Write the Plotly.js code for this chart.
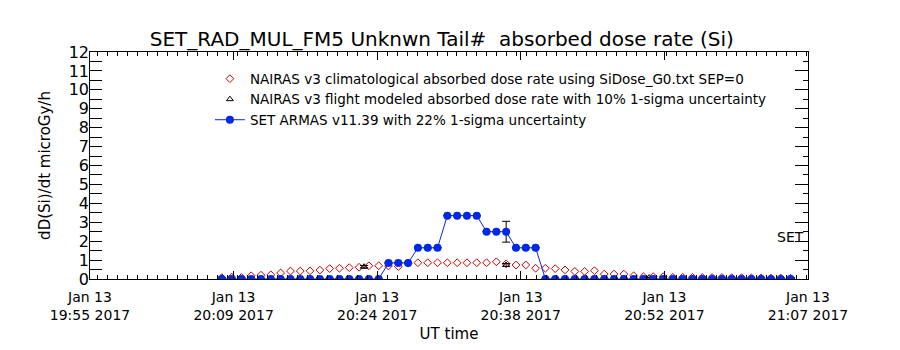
<!DOCTYPE html>
<html>
<head>
<meta charset="utf-8">
<script src="https://cdn.plot.ly/plotly-3.0.1.min.js"></script>
<style>html,body{margin:0;padding:0;background:#fff;}#chart{width:900px;height:350px;}</style>
</head>
<body>
<div id="chart"></div>
<script>
// ---- data ----
const DAY = '2017-01-13 ';
const sampleTimes = ['20:08:25','20:09:24','20:10:23','20:11:22','20:12:21','20:13:20','20:14:19','20:15:18','20:16:17','20:17:16',
  '20:18:15','20:19:14','20:20:13','20:21:12','20:22:11','20:23:10','20:24:09','20:25:08','20:26:07','20:27:06',
  '20:28:05','20:29:04','20:30:03','20:31:02','20:32:01','20:33:00','20:33:59','20:34:58','20:35:57','20:36:56',
  '20:37:55','20:38:54','20:39:53','20:40:52','20:41:51','20:42:50','20:43:49','20:44:48','20:45:47','20:46:46',
  '20:47:45','20:48:44','20:49:43','20:50:42','20:51:41','20:52:40','20:53:39','20:54:38','20:55:37','20:56:36',
  '20:57:35','20:58:34','20:59:33','21:00:32','21:01:31','21:02:30','21:03:29','21:04:28','21:05:27'];
const climValues = [0.07,0.10,0.08,0.17,0.20,0.22,0.32,0.42,0.42,0.43,
  0.47,0.55,0.57,0.60,0.62,0.70,0.70,0.69,0.66,0.84,
  0.86,0.86,0.86,0.86,0.86,0.86,0.86,0.86,0.91,0.80,
  0.74,0.74,0.57,0.57,0.55,0.48,0.40,0.40,0.44,0.26,
  0.26,0.26,0.17,0.12,0.12,0.12,0.09,0.09,0.09,0.08,
  0.08,0.08,0.07,0.07,0.06,0.06,0.05,0.05,0.04];
const setValues = [0,0,0,0,0,0,0,0,0,0,
  0,0,0,0,0,0,0,0.85,0.85,0.85,
  1.65,1.65,1.65,3.35,3.35,3.35,3.35,2.5,2.5,2.5,
  1.65,1.65,1.65,0,0,0,0,0,0,0,
  0,0,0,0,0,0,0,0,0,0,
  0,0,0,0,0,0,0,0,0];
const setErrors = [null,null,null,null,null,null,null,null,null,null,
  null,null,null,null,null,null,null,null,null,null,
  null,null,null,null,null,null,null,null,null,0.55,
  null,null,null,null,null,null,null,null,null,null,
  null,null,null,null,null,null,null,null,null,null,
  null,null,null,null,null,null,null,null,null];
const flightTimes = ['20:08:25','20:22:41','20:36:56','20:51:16','21:05:30'];
const flightValues = [0.06,0.65,0.74,0.08,0.05];
const flightSigmaPct = 10;

const xRange = ['19:55:12','21:07:12'];
const xTickTimes = ['19:55:12','20:09:36','20:24:00','20:38:24','20:52:48','21:07:12'];
const xTickLabels = ['Jan 13<br>19:55 2017','Jan 13<br>20:09 2017','Jan 13<br>20:24 2017',
  'Jan 13<br>20:38 2017','Jan 13<br>20:52 2017','Jan 13<br>21:07 2017'];
const yLabelPos = [0,1,2,3,4,5,6,7,8,9,10,11,12];
const yLabels = ['0','1','2','3','4','5','6','7','8','9','10','11','12'];

const names = [
  'NAIRAS v3 climatological absorbed dose rate using SiDose_G0.txt SEP=0',
  'NAIRAS v3 flight modeled absorbed dose rate with 10% 1-sigma uncertainty',
  'SET ARMAS v11.39 with 22% 1-sigma uncertainty'
];

// ---- build ----
const full = t => DAY + t;
const FONT = 'DejaVu Sans';
const BLUE = 'rgb(0,40,230)';
const RED = 'rgb(205,0,0)';

const traces = [
  {x: sampleTimes.map(full), y: climValues, name: names[0], type: 'scatter', mode: 'markers',
   marker: {symbol: 'diamond-open', size: 6, color: RED, line: {width: 1, color: RED}}},
  {x: flightTimes.map(full), y: flightValues, name: names[1], type: 'scatter', mode: 'markers',
   marker: {symbol: 'triangle-up-open', size: 6, color: 'black', line: {width: 1, color: 'black'}},
   error_y: {type: 'percent', value: flightSigmaPct, color: 'black', thickness: 1, width: 4}},
  {x: sampleTimes.map(full), y: setValues, name: names[2], type: 'scatter', mode: 'lines+markers',
   line: {color: BLUE, width: 1}, marker: {symbol: 'circle', size: 8, color: BLUE},
   error_y: {type: 'data', array: setErrors, visible: true, color: 'black', thickness: 1, width: 4}},
  // carrier traces for the overlay axes
  {x: [full(xRange[0])], y: [-5], yaxis: 'y2', mode: 'markers', marker: {opacity: 0}, showlegend: false, hoverinfo: 'skip'},
  {x: [full(xRange[0])], y: [-5], yaxis: 'y3', mode: 'markers', marker: {opacity: 0}, showlegend: false, hoverinfo: 'skip'}
];

const layout = {
  width: 900, height: 350,
  margin: {l: 90, r: 92, t: 52, b: 71},
  paper_bgcolor: 'white', plot_bgcolor: 'white',
  font: {family: FONT, color: 'black', size: 14},
  title: {text: 'SET_RAD_MUL_FM5 Unknwn Tail#\u00a0 absorbed dose rate (Si)',
          font: {family: FONT, size: 20, color: 'black'},
          x: 0.49, xref: 'paper', xanchor: 'center', y: 0.888, yref: 'container', yanchor: 'middle'},
  showlegend: true,
  legend: {x: 0.167, y: 0.95, xanchor: 'left', yanchor: 'top', bgcolor: 'rgba(0,0,0,0)',
           font: {family: FONT, size: 13.5, color: 'black'}, itemwidth: 30, tracegroupgap: 0},
  xaxis: {type: 'date', range: xRange.map(full), tickmode: 'array',
          tickvals: xTickTimes.map(full), ticktext: xTickLabels,
          ticks: 'inside', ticklen: 8, tickcolor: 'black', showline: true, linecolor: 'black', linewidth: 1,
          mirror: 'ticks', showgrid: false, zeroline: false, ticklabelstandoff: 5,
          tickfont: {family: FONT, size: 14},
          minor: {ticks: 'inside', ticklen: 4, tickcolor: 'black', tickmode: 'linear',
                  tick0: full('19:55:00'), dtick: 60000, showgrid: false},
          title: {text: 'UT time', font: {family: FONT, size: 15}, standoff: 6}},
  yaxis: {range: [0, 12], tickmode: 'linear', tick0: 0, dtick: 0.5, ticks: 'inside', ticklen: 12,
          tickcolor: 'black', showticklabels: false, showline: true, linecolor: 'black', linewidth: 1,
          showgrid: false, zeroline: false,
          title: {text: 'dD(Si)/dt microGy/h', font: {family: FONT, size: 15}, standoff: 34}},
  yaxis2: {overlaying: 'y', side: 'left', range: [0, 12], tickmode: 'array', tickvals: yLabelPos, ticktext: yLabels,
           ticks: '', showline: false, showgrid: false, zeroline: false,
           tickfont: {family: FONT, size: 16}},
  yaxis3: {overlaying: 'y', side: 'right', range: [0, 12], tickmode: 'linear', tick0: 0, dtick: 1,
           ticks: 'inside', ticklen: 13, tickcolor: 'black', showticklabels: false, showline: true,
           linecolor: 'black', showgrid: false, zeroline: false,
           minor: {ticks: 'inside', ticklen: 5, tickcolor: 'black', dtick: 0.5, showgrid: false}},
  annotations: [{text: 'SET', xref: 'paper', x: 0.976, xanchor: 'center', yref: 'y', y: 2.2, yanchor: 'middle',
                 showarrow: false, font: {family: FONT, size: 14, color: 'black'}}]
};

Plotly.newPlot('chart', traces, layout, {staticPlot: true, displayModeBar: false});
</script>
</body>
</html>
